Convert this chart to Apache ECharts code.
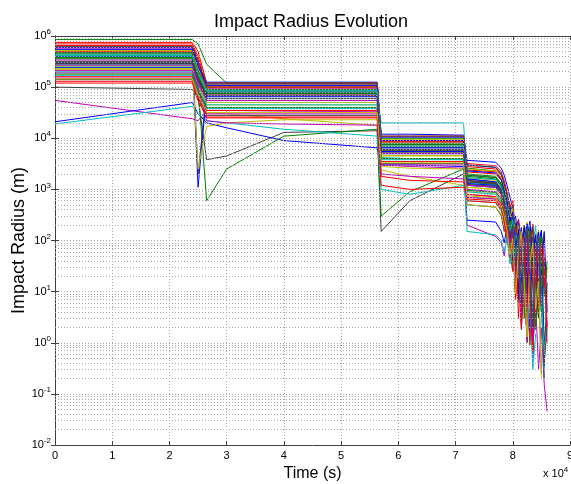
<!DOCTYPE html>
<html><head><meta charset="utf-8">
<script src="https://cdn.jsdelivr.net/npm/echarts@6/dist/echarts.min.js"></script>
<style>html,body{margin:0;padding:0;background:#fff}#c{width:571px;height:484px}</style>
</head><body><div id="c"></div>
<script>
// sample times (s)
const timeS = [0,24000,25000,26500,30000,40000,56300,57000,62000,71400,72000,77000,
  78000,78500,79000,79500,80000,80500,81000,81500,82000,82500,83000,83500,84000,84500,85000,85500,86000];
const xTickLabels = ['0','1','2','3','4','5','6','7','8','9'];
const yTickExponents = ['-2','-1','0','1','2','3','4','5','6'];
const lineColors = ['#0000ff','#008000','#ff0000','#00bfbf','#bf00bf','#bfbf00','#404040'];

// impact radius (m) of each run at the sample times
const run00=[6e5,6e5,3e5,1.25e5,1.25e5,1.25e5,1.25e5,1.2e4,1.2e4,1.15e4,3.7e3,3.4e3,2.6e3,1.9e3,1.2e3,700,420,180,260,90,140,35,120,60,8,90,25,150,4];
const run01=[8.5e5,8.5e5,7e5,2.8e5,1.2e5,1.2e5,1.2e5,1e4,1e4,1e4,2.6e3,2.3e3,1.7e3,1.2e3,600,350,90,220,40,160,12,80,130,20,3,60,110,9,40];
const run02=[7e5,7e5,4e5,1.1e5,1.1e5,1.1e5,1.1e5,9e3,9e3,9e3,2.8e3,2.5e3,1.9e3,1.1e3,800,260,400,70,190,15,100,2,50,170,30,6,120,45];
const run03=[4.4e5,4.4e5,2e5,6e4,6e4,6e4,6e4,2e4,2e4,2e4,1.4e3,1.2e3,900,500,350,120,200,30,90,8,140,40,1.5,70,200,12,55];
const run04=[5.5e4,2.4e4,2.2e4,3.5e4,3.5e4,3.4e4,3.3e4,3e3,2.8e3,2.6e3,200,120,90,50,130,40,80,20,60,8,30,3,15,0.8,6,0.3,2,0.15,0.045];
const run05=[3.8e5,3.8e5,1.6e5,3.2e4,3e4,2.4e4,1.8e4,2.4e3,1.8e3,1.2e3,900,800,550,300,180,60,110,20,75,4,40,90,10,1.2,35,80,6,25];
const run06=[1e5,9e4,6e4,3.8e3,4.5e3,1.3e4,1.4e4,150,600,2e3,500,450,300,150,220,60,25,110,6,70,30,1,45,120,15,3,60,0.2];
const run07=[2.1e4,5e4,3e4,2e4,1.6e4,9e3,6.5e3,3e3,3e3,2.8e3,250,230,150,90,180,40,100,12,60,3,35,80,8,0.9,25,70,5,18];
const run08=[2.7e5,2.7e5,1e5,600,2.5e3,1.1e4,1.5e4,300,900,2.5e3,1.5e3,1.3e3,950,700,300,450,90,200,25,130,5,70,180,15,2,50,140,8,30];
const run09=[6.5e5,6.5e5,3.5e5,1.05e5,1.05e5,1.05e5,1.05e5,8.5e3,8.5e3,8.5e3,2.4e3,2.2e3,1.6e3,900,650,220,350,60,160,10,90,220,30,4,75,150,12,45,2];
const run10=[1.9e4,4.2e4,3e4,2.2e4,2e4,1.5e4,1.1e4,1e3,800,1.2e3,600,550,380,250,110,180,35,90,6,60,140,15,1.1,40,110,7,20];
const run11=[5.8e5,5.8e5,3e5,9.5e4,9.5e4,9.5e4,9.5e4,7.5e3,7.5e3,7.5e3,1.9e3,1.7e3,1.2e3,800,400,150,280,45,120,9,65,180,20,0.6,50,130,10,35];
const run12=[3e5,3e5,1.4e5,9e4,9e4,9e4,9e4,7e3,7e3,7e3,1.7e3,1.5e3,1.1e3,650,450,130,230,40,90,5,55,160,14,2.5,45,100,6];
const run13=[4.8e5,4.8e5,2e3,8.5e4,8.5e4,8.5e4,8.5e4,6.5e3,6.5e3,6.5e3,1.6e3,1.4e3,1e3,600,300,180,60,150,12,85,200,25,3,70,120,9,40,0.4,15];
const run14=[5.3e5,5.3e5,2.5e5,1.15e5,1.15e5,1.15e5,1.15e5,1.05e4,1.05e4,1.05e4,3e3,2.7e3,2e3,1.3e3,750,500,200,300,70,180,18,110,240,35,5,85,160,15];
const run15=[4.6e5,4.6e5,2.1e5,1e5,1e5,1e5,1e5,8e3,8e3,8e3,2e3,1.8e3,1.3e3,850,500,280,80,200,20,120,3,60,150,25,1.8,55,110,0.8];
const run16=[7.5e5,7.5e5,5e5,1.2e5,1.2e5,1.2e5,1.2e5,1.1e4,1.1e4,1.1e4,3.2e3,2.9e3,2.2e3,1.5e3,900,450,600,130,250,40,160,8,100,210,28,4,90,14];
const run17=[2.5e5,2.5e5,1.2e5,5.5e4,5.5e4,5.5e4,5.5e4,5e3,5e3,5e3,1.2e3,1.1e3,800,450,280,90,160,22,70,5,50,130,12,1.2,40,95,6];
const run18=[3.4e5,3.4e5,1.5e5,7e4,7e4,7e4,7e4,6e3,6e3,6e3,1.5e3,1.3e3,950,550,380,110,200,35,140,7,60,170,18,2,55,120,8,30,2];
const run19=[2.2e5,2.2e5,1e5,4.5e4,4.5e4,4.5e4,4.5e4,4.5e3,4.5e3,4.5e3,1.1e3,1e3,700,400,230,70,140,15,80,3,45,110,9,0.7,30,85,4];
const run20=[6.2e5,6.2e5,3.2e5,1.2e5,1.2e5,1.2e5,1.2e5,1.1e4,1.1e4,1.1e4,3e3,2.7e3,2e3,1.2e3,800,350,500,110,220,30,150,6,90,200,22,3,70,140];
const run21=[4e5,4e5,1.1e3,8e4,8e4,8e4,8e4,6.5e3,6.5e3,6.5e3,1.6e3,1.4e3,1e3,600,350,200,50,140,9,80,180,20,2.2,60,130,10,35];
const run22=[3.6e5,3.6e5,1.6e5,7.5e4,7.5e4,7.5e4,7.5e4,6e3,6e3,6e3,1.4e3,1.25e3,900,520,300,100,180,25,110,4,50,150,16,1.5,45,100,7];
const run23=[5e5,5e5,2.3e5,1e5,1e5,1e5,1e5,8.5e3,8.5e3,8.5e3,2.2e3,2e3,1.5e3,1e3,600,250,380,70,170,14,95,220,25,3.5,70,150,11,40,1];
const run24=[2.8e5,2.8e5,1.3e5,6e4,6e4,6e4,6e4,5.5e3,5.5e3,5.5e3,1.3e3,1.2e3,880,500,320,90,170,18,100,3,45,130,13,1,38,90,5,0.3];
const run25=[1.9e5,1.9e5,9e4,4e4,4e4,4e4,4e4,4e3,4e3,4e3,1e3,900,650,380,200,70,130,12,75,2.5,40,100,9,0.6,28,70,4];
const run26=[2.6e5,2.6e5,2.5e3,1.7e4,2e4,2.3e4,2.3e4,2.8e3,2.6e3,2.5e3,500,450,330,200,120,40,90,8,55,150,14,1.5,35,90,5,20];
const run27=[3.2e5,3.2e5,1.5e5,7e4,7e4,7e4,7e4,5.8e3,5.8e3,5.8e3,1.4e3,1.3e3,950,560,340,110,190,30,120,6,60,160,17,2,50,110,8];
const run28=[2.4e5,2.4e5,1.1e5,5e4,5e4,5e4,5e4,5e3,5e3,5e3,1.2e3,1.1e3,800,460,280,150,40,110,7,65,150,14,1.6,45,100,6,25,0.35];
const run29=[4.2e5,4.2e5,1.9e5,9e4,9e4,9e4,9e4,7.5e3,7.5e3,7.5e3,1.9e3,1.7e3,1.25e3,780,460,180,300,55,140,10,80,190,22,3,60,130,10,38];
const run30=[1.6e5,1.6e5,8e4,3.5e4,3.5e4,3.5e4,3.5e4,3.5e3,3.5e3,3.5e3,600,550,400,230,90,160,25,80,3,45,120,10,0.9,32,85,5,14];
const run31=[2e5,2e5,9e4,4.5e4,4.5e4,4.5e4,4.5e4,4.2e3,4e3,3.8e3,900,800,580,340,190,60,120,12,70,2,38,95,8,0.5,26,70,4,12];
const run32=[1.5e5,1.5e5,7e4,3e4,3e4,3e4,3e4,3e3,3e3,3e3,800,720,520,300,170,55,100,10,60,1.8,32,85,7,0.5,22];
const run33=[2.3e5,2.3e5,1.05e5,5e4,5e4,5e4,5e4,4.6e3,4.6e3,4.6e3,1.1e3,1e3,720,420,250,80,150,16,90,3,48,120,11,1,35,80,5];
const run34=[1.4e5,1.4e5,6.5e4,2.8e4,2.8e4,2.8e4,2.8e4,3.2e3,3.2e3,3.2e3,700,650,460,270,150,50,110,8,65,160,15,1.4,40,90,5,18,0.25];
const run35=[3e5,3e5,1.4e5,6.5e4,6.5e4,6.5e4,6.5e4,5.5e3,5.5e3,5.5e3,1.3e3,1.2e3,870,500,310,95,170,22,105,4,52,140,14,1.3,42,95,6];
const run36=[3.8e5,3.8e5,1.7e5,8e4,8e4,8e4,8e4,7e3,7e3,7e3,1.8e3,1.6e3,1.15e3,720,420,160,270,48,130,9,72,175,19,2.6,58,125,9];
const run37=[1.2e5,1.2e5,5.5e4,2.5e4,2.5e4,2.5e4,2.5e4,1.8e3,1.5e3,1.4e3,650,600,430,250,140,45,100,7,60,150,13,1.2,36,85,4];
const run38=[1.7e5,1.7e5,8e4,3.8e4,3.8e4,3.8e4,3.8e4,3.8e3,3.8e3,3.8e3,150,130,100,60,120,35,70,12,40,4,18,1.2,6,0.3,1.5];
const run39=[2.1e5,2.1e5,1e5,2.2e4,2e4,1.9e4,1.8e4,2e3,1.8e3,1.6e3,700,650,460,270,160,50,105,9,62,140,12,1.1,34,80,4.5];
const run40=[5.2e5,5.2e5,2.4e5,1.1e5,1.1e5,1.1e5,1.1e5,9.5e3,9.5e3,9.5e3,2.5e3,2.3e3,1.7e3,1.05e3,650,280,420,85,190,18,110,230,26,4,80,160,12];
const run41=[2.9e5,2.9e5,1.35e5,6e4,6e4,6e4,6e4,5.2e3,5.2e3,5.2e3,1.25e3,1.15e3,830,480,300,90,165,20,100,3.5,50,135,13,1.2,40,92,6,0.4,2];
const run42=[5.5e5,5.5e5,2.6e5,1.08e5,1.08e5,1.08e5,1.08e5,9e3,9e3,9e3,2.3e3,2.1e3,1.55e3,950,600,240,360,75,165,15,95,210,24,3.2,70,145,11,1.1];
const run43=[1.8e5,1.8e5,8.5e4,4e4,4e4,4e4,4e4,4e3,4e3,4e3,950,870,630,370,210,65,125,13,72,2.4,40,100,9,0.8,28,75,4];
const run44=[1.3e5,1.3e5,6e4,2.6e4,2.6e4,2.6e4,2.6e4,1.2e3,1e3,1.1e3,800,720,520,300,180,55,115,10,68,1.9,38,95,8,0.7,25,70];
const run45=[4.1e5,4.1e5,1.9e5,8.5e4,8.5e4,8.5e4,8.5e4,7e3,7e3,7e3,1.7e3,1.55e3,1.1e3,700,420,150,250,45,125,8,68,170,18,2.4,55,120,9,0.6];
const run46=[2.7e5,2.7e5,1.25e5,5.5e4,5.5e4,5.5e4,5.5e4,5e3,5e3,5e3,1.2e3,1.1e3,800,470,290,88,160,19,98,3.4,48,130,12,1.1,38,88,5.5];
const run47=[1.45e5,1.45e5,7e4,3.2e4,3.2e4,3.2e4,3.2e4,3.3e3,3.3e3,3.3e3,750,680,480,290,160,52,110,9,64,150,14,1.3,38,88,4.5,16,0.2];
const run48=[3.1e5,3.1e5,1.4e5,6.8e4,6.8e4,6.8e4,6.8e4,6e3,6e3,6e3,1.5e3,1.35e3,980,580,360,120,200,34,125,6,62,165,18,2,52,115,8];

const runs=[run00,run01,run02,run03,run04,run05,run06,run07,run08,run09,run10,run11,run12,run13,run14,run15,run16,run17,run18,run19,run20,run21,run22,run23,run24,run25,run26,run27,run28,run29,run30,run31,run32,run33,run34,run35,run36,run37,run38,run39,run40,run41,run42,run43,run44,run45,run46,run47,run48];

const FONT = 'Liberation Sans, Arial, sans-serif';
const minorVals = [];
for (let e = -2; e < 6; e++) for (let k = 2; k <= 9; k++) minorVals.push(k * Math.pow(10, e));

const gridDot = {color:'#a8a8a8', type:[1,2], width:1};
const series = [{
  type:'line', data:[], silent:true, z:1,
  markLine:{symbol:'none', silent:true, animation:false, label:{show:false},
    lineStyle:gridDot, data:minorVals.map(v=>({yAxis:v}))}
}].concat(runs.map((vals,i)=>({
  type:'line', name:'run'+i, silent:true, symbol:'none', showSymbol:false, z:2,
  lineStyle:{width:1, color:lineColors[i%7]},
  data: vals.map((v,j)=>[timeS[j], v])
})));

const chart = echarts.init(document.getElementById('c'), null, {renderer:'canvas'});
const yLabelRich = {b:{fontSize:11, fontFamily:FONT, color:'#000'}, s:{fontSize:8, fontFamily:FONT, color:'#000', verticalAlign:'top', padding:[0,0,8,0]}};
chart.setOption({
  animation:false,
  backgroundColor:'#fff',
  title:{text:'Impact Radius Evolution', left:306, top:8, textAlign:'center',
    textStyle:{fontFamily:FONT, fontSize:18, fontWeight:'normal', color:'#000'}},
  grid:{left:55, right:1, top:36, bottom:39, outerBoundsMode:'none', containLabel:false},
  xAxis:[{
    type:'value', min:0, max:90000, interval:10000,
    name:'Time (s)', nameLocation:'middle', nameGap:20,
    nameTextStyle:{fontFamily:FONT, fontSize:16, color:'#000', verticalAlign:'top'},
    axisLine:{show:true, lineStyle:{color:'#404040'}},
    axisTick:{show:true, inside:true, length:4, lineStyle:{color:'#404040'}},
    axisLabel:{fontFamily:FONT, fontSize:11, color:'#000', margin:5,
      formatter:(v)=>xTickLabels[Math.round(v/10000)]},
    splitLine:{show:true, lineStyle:gridDot}
  },{
    type:'value', min:0, max:90000, interval:10000, position:'top',
    axisLine:{show:true, lineStyle:{color:'#404040'}},
    axisTick:{show:true, inside:true, length:4, lineStyle:{color:'#404040'}},
    axisLabel:{show:false}, splitLine:{show:false}
  }],
  yAxis:[{
    type:'log', logBase:10, min:0.01, max:1e6, splitNumber:8,
    name:'Impact Radius (m)', nameLocation:'middle', nameGap:27, nameRotate:90,
    nameMoveOverlap:false,
    nameTextStyle:{fontFamily:FONT, fontSize:18, color:'#000'},
    axisLine:{show:true, lineStyle:{color:'#404040'}},
    axisTick:{show:true, inside:true, length:4, lineStyle:{color:'#404040'}},
    axisLabel:{margin:4, rich:yLabelRich,
      formatter:(v)=>{const e=Math.round(Math.log10(v)); return '{b|10}{s|'+yTickExponents[e+2]+'}';}},
    splitLine:{show:true, lineStyle:gridDot}
  },{
    type:'log', logBase:10, min:0.01, max:1e6, splitNumber:8, position:'right',
    axisLine:{show:true, lineStyle:{color:'#404040'}},
    axisTick:{show:true, inside:true, length:4, lineStyle:{color:'#404040'}},
    axisLabel:{show:false}, splitLine:{show:false}
  }],
  graphic:[{type:'text', left:543, top:466,
    style:{text:'{a|x 10}{s|4}', rich:{a:{fontFamily:FONT, fontSize:11, fill:'#000'}, s:{fontFamily:FONT, fontSize:8, fill:'#000', verticalAlign:'top', padding:[0,0,8,0]}}}}],
  series:series
});
</script></body></html>
